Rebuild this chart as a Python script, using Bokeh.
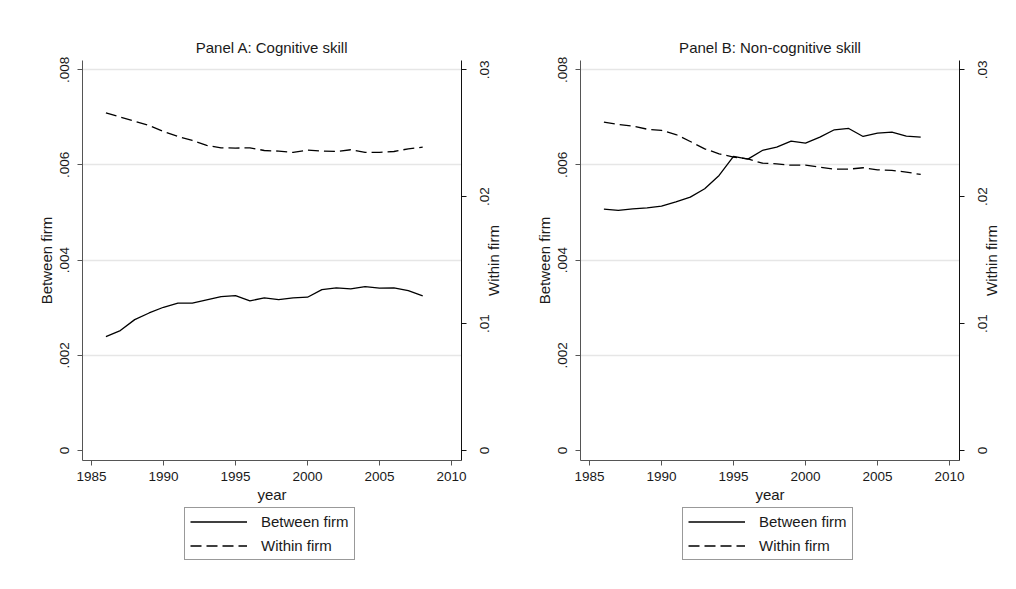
import math
from bokeh.plotting import figure
from bokeh.models import LinearAxis, Range1d, FixedTicker, Legend, LegendItem
from bokeh.layouts import row, column
from bokeh.embed import file_html
from bokeh.resources import INLINE

years = list(range(1986, 2009))

between_cog = [0.002395, 0.00252, 0.00275, 0.00289, 0.00301, 0.003095, 0.003095, 0.003165,
               0.003235, 0.003256, 0.003144, 0.003207, 0.003172, 0.003207, 0.003221, 0.003382,
               0.003417, 0.003396, 0.003445, 0.00341, 0.003417, 0.003361, 0.00325]
within_cog = [0.02661, 0.02627, 0.02595, 0.02561, 0.02514, 0.02475, 0.02443, 0.02404,
              0.02385, 0.02383, 0.02385, 0.02364, 0.02359, 0.02349, 0.02367, 0.02359,
              0.02356, 0.02370, 0.02349, 0.02349, 0.02356, 0.02377, 0.0239]

between_noncog = [0.005072, 0.005044, 0.005079, 0.0051, 0.005135, 0.005226, 0.005324, 0.005499,
                  0.00578, 0.006179, 0.006123, 0.006305, 0.006375, 0.006501, 0.006459, 0.006585,
                  0.006739, 0.006767, 0.006599, 0.006669, 0.00669, 0.006606, 0.006585]
within_noncog = [0.02588, 0.02569, 0.02556, 0.02532, 0.02522, 0.0249, 0.02435, 0.02377,
                 0.02338, 0.02312, 0.02298, 0.02264, 0.02259, 0.02248, 0.02248, 0.02233,
                 0.02217, 0.02217, 0.02228, 0.02212, 0.02207, 0.02194, 0.02175]

series_labels = ["Between firm", "Within firm"]
x_ticks = [1985, 1990, 1995, 2000, 2005, 2010]
left_ticks = [0, 0.002, 0.004, 0.006, 0.008]
left_tick_labels = ["0", ".002", ".004", ".006", ".008"]
right_ticks = [0, 0.01, 0.02, 0.03]
right_tick_labels = ["0", ".01", ".02", ".03"]

FONT = "Liberation Sans"
TXT = "#1a1a1a"
Y0, Y1 = -0.00021, 0.008195
RATIO = 3.75
DASH = "11 5"
FRAME_H = 400
FRAME_W = 379
TICK_PX = 13.5
LABEL_PX = 15

# approximate advance widths (em) of Liberation Sans, used to centre the
# upward-reading right-hand texts on their positions
EM = {".": 0.278, " ": 0.278, "0": 0.556, "1": 0.556, "2": 0.556, "3": 0.556,
      "W": 0.944, "i": 0.222, "t": 0.278, "h": 0.556, "n": 0.556, "f": 0.278,
      "r": 0.333, "m": 0.833}


def text_px(s, size):
    return sum(EM.get(c, 0.556) for c in s) * size


def style_axis(ax, line_color):
    ax.axis_line_color = line_color
    ax.major_tick_line_color = line_color
    ax.minor_tick_line_color = None
    ax.major_tick_out = 5
    ax.major_tick_in = 0
    ax.major_label_text_font = FONT
    ax.major_label_text_font_size = f"{TICK_PX}px"
    ax.major_label_text_color = TXT
    ax.axis_label_text_font = FONT
    ax.axis_label_text_font_size = f"{LABEL_PX}px"
    ax.axis_label_text_font_style = "normal"
    ax.axis_label_text_color = TXT


def make_panel(title, between, within, width, left_border):
    p = figure(width=width, height=505,
               x_range=Range1d(1984.375, 2010.694),
               y_range=Range1d(Y0, Y1),
               output_backend="svg", toolbar_location=None,
               min_border_left=left_border, min_border_right=width - left_border - FRAME_W,
               min_border_top=60, min_border_bottom=45,
               title=title)
    r_start, r_end = Y0 * RATIO, Y1 * RATIO
    units_per_px = (r_end - r_start) / FRAME_H
    p.extra_y_ranges = {"within": Range1d(r_start, r_end)}
    p.outline_line_color = None

    p.title.text_font = FONT
    p.title.text_font_size = f"{LABEL_PX}px"
    p.title.text_font_style = "normal"
    p.title.text_color = TXT
    p.title.align = "center"

    p.xgrid.visible = False
    p.ygrid.ticker = FixedTicker(ticks=left_ticks[1:])
    p.ygrid.grid_line_color = "#e6e6e6"
    p.ygrid.grid_line_width = 1.5

    xa = p.xaxis[0]
    xa.ticker = FixedTicker(ticks=x_ticks)
    xa.axis_label = "year"
    style_axis(xa, "#555555")
    xa.major_label_standoff = 6
    xa.axis_label_standoff = 2

    ya = p.yaxis[0]
    ya.ticker = FixedTicker(ticks=left_ticks)
    ya.major_label_overrides = dict(zip(left_ticks, left_tick_labels))
    ya.major_label_orientation = "vertical"
    ya.axis_label = "Between firm"
    style_axis(ya, "#555555")
    ya.major_label_standoff = 8
    ya.axis_label_standoff = 3

    # right axis 1: rule and tick marks only
    r1 = LinearAxis(y_range_name="within", ticker=FixedTicker(ticks=right_ticks))
    style_axis(r1, "#111111")
    r1.major_label_text_color = None
    r1.major_label_standoff = 0
    p.add_layout(r1, "right")

    # right axis 2: tick labels reading upwards, centred on their ticks
    shifted = [t - text_px(s, TICK_PX) / 2 * units_per_px
               for t, s in zip(right_ticks, right_tick_labels)]
    r2 = LinearAxis(y_range_name="within", ticker=FixedTicker(ticks=shifted))
    style_axis(r2, None)
    r2.major_tick_out = 0
    r2.major_label_overrides = dict(zip(shifted, right_tick_labels))
    r2.major_label_orientation = math.pi / 2
    r2.major_label_text_line_height = 1.0
    r2.major_label_standoff = 18
    p.add_layout(r2, "right")

    # right axis 3: the axis title, reading upwards, centred on the frame
    mid = (r_start + r_end) / 2 - text_px(series_labels[1], LABEL_PX) / 2 * units_per_px
    r3 = LinearAxis(y_range_name="within", ticker=FixedTicker(ticks=[mid]))
    style_axis(r3, None)
    r3.major_tick_out = 0
    r3.major_label_overrides = {mid: series_labels[1]}
    r3.major_label_text_font_size = f"{LABEL_PX}px"
    r3.major_label_text_line_height = 1.0
    r3.major_label_orientation = math.pi / 2
    r3.major_label_standoff = -3
    p.add_layout(r3, "right")

    p.line(years, between, line_color="black", line_width=1.3)
    p.line(years, within, line_color="black", line_width=1.3,
           line_dash=DASH, y_range_name="within")
    return p


def make_legend(width, x_off):
    lf = figure(width=width, height=60, x_range=Range1d(0, 1), y_range=Range1d(0, 1),
                x_axis_type=None, y_axis_type=None, min_border=0,
                output_backend="svg", toolbar_location=None)
    lf.outline_line_color = None
    lf.xgrid.visible = False
    lf.ygrid.visible = False
    # legend keys only: these lines lie outside the visible range
    k1 = lf.line([-5, -4], [-5, -4], line_color="black", line_width=1.3)
    k2 = lf.line([-5, -4], [-5, -4], line_color="black", line_width=1.3, line_dash=DASH)
    legend = Legend(items=[LegendItem(label=series_labels[0], renderers=[k1]),
                           LegendItem(label=series_labels[1], renderers=[k2])],
                    location=(x_off, 5), orientation="vertical")
    legend.border_line_color = "#333333"
    legend.border_line_width = 1
    legend.glyph_width = 57
    legend.glyph_height = 17
    legend.label_height = 17
    legend.label_standoff = 14
    legend.spacing = 7
    legend.padding = 5
    legend.margin = 0
    legend.label_text_font = FONT
    legend.label_text_font_size = f"{LABEL_PX}px"
    legend.label_text_color = TXT
    lf.add_layout(legend, "center")
    return lf


pa = make_panel("Panel A: Cognitive skill", between_cog, within_cog, 528, 82)
pb = make_panel("Panel B: Non-cognitive skill", between_noncog, within_noncog, 488, 52)
la = make_legend(528, 184)
lb = make_legend(488, 154)

layout = column(row(pa, pb), row(la, lb))
open("out.html", "w").write(file_html(layout, INLINE))
